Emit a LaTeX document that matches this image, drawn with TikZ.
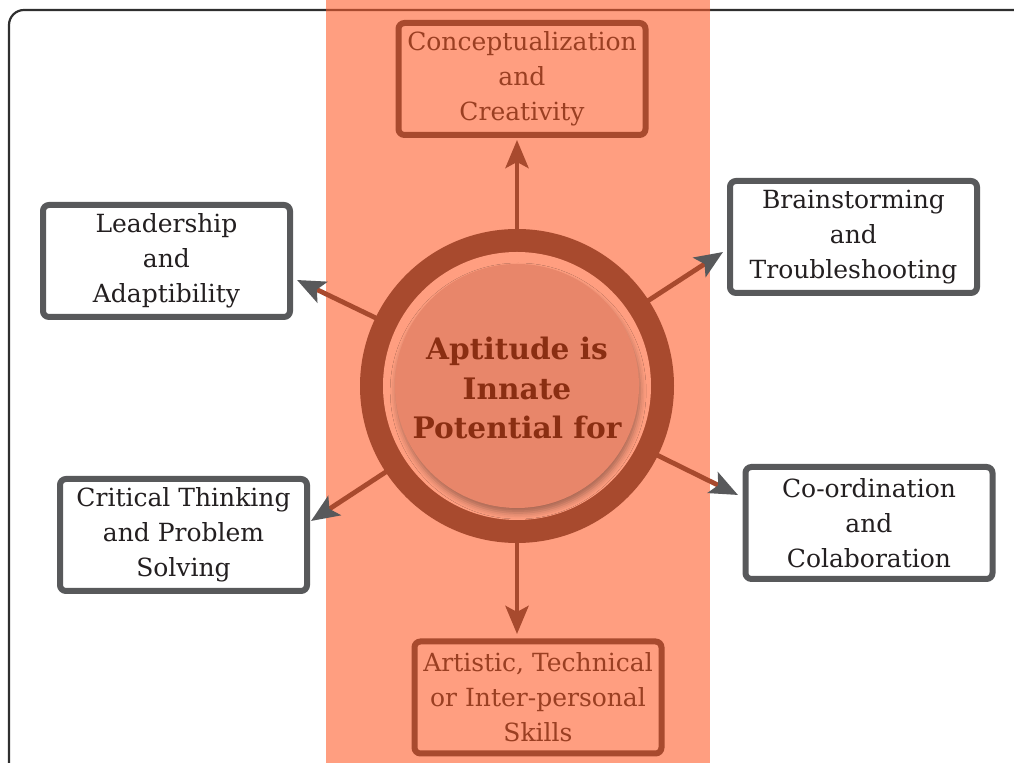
\documentclass[tikz,border=0pt]{standalone}
\usepackage{fontspec}
\setmainfont{DejaVu Serif}
\usetikzlibrary{arrows.meta,shadows.blur}
\definecolor{band}{HTML}{FF9E80}
\definecolor{ringbrown}{HTML}{A84A2E}
\definecolor{diskfill}{HTML}{E8866A}
\definecolor{boxgray}{HTML}{58595B}
\definecolor{textdark}{HTML}{231F20}
\definecolor{textbrown}{HTML}{9A3F22}
\definecolor{centertext}{HTML}{8A2E12}
\definecolor{framegray}{HTML}{2F2F2F}
\tikzset{
  graybox/.style={draw=boxgray, line width=3pt, rounded corners=3pt, fill=white,
    align=center, inner sep=0pt, minimum width=123.5pt, minimum height=56pt,
    text=textdark, font=\fontsize{12.5}{17.5}\selectfont},
  brownbox/.style={graybox, draw=ringbrown, fill=band, text=textbrown},
  brownarrow/.style={draw=ringbrown, line width=2.4pt,
    -{Stealth[length=14pt,width=11.5pt,inset=3pt]}},
  sidearrow/.style={draw=ringbrown, line width=2.4pt,
    -{Stealth[length=14pt,width=11.5pt,inset=3pt,color=boxgray]}},
  framestyle/.style={line width=1.1pt, rounded corners=7.5pt},
  centerlabel/.style={align=center, text=centertext, inner sep=0pt,
    font=\fontsize{14.8}{19.7}\selectfont\bfseries},
}
\begin{document}
\begin{tikzpicture}[x=0.5pt,y=-0.5pt]
\useasboundingbox (0,0) rectangle (1014,763);
\clip (0,0) rectangle (1014,763);
% outer frame
\draw[framestyle, draw=framegray] (9,10) rectangle (1080,778);
% vertical band
\fill[band] (326,-5) rectangle (710,770);
\begin{scope}
  \clip (326,0) rectangle (710,40);
  \draw[framestyle, draw=ringbrown] (9,10) rectangle (1080,778);
\end{scope}
% boxes
\node[brownbox] (top) at (522,79) {Conceptualization\\and\\Creativity};
\node[graybox] (lead) at (166.5,261) {Leadership\\and\\Adaptibility};
\node[graybox] (brain) at (853.5,237) {Brainstorming\\and\\Troubleshooting};
\node[graybox] (coord) at (869,523) {Co-ordination\\and\\Colaboration};
\node[graybox] (crit) at (183.5,535) {Critical Thinking\\and Problem\\Solving};
\node[brownbox] (bot) at (538,697.5) {Artistic, Technical\\or Inter-personal\\Skills};
% center circle anchor
\coordinate (cc) at (517,386);
\coordinate (tlead) at (297,280);
\coordinate (tbrain) at (723,252);
\coordinate (tcoord) at (738,495);
\coordinate (tcrit) at (311,521);
\coordinate (ttop) at (517,140);
\coordinate (tbot) at (517,634);
% connectors
\draw[brownarrow] (cc) -- (ttop);
\draw[brownarrow] (cc) -- (tbot);
\draw[sidearrow] (cc) -- (tlead);
\draw[sidearrow] (cc) -- (tbrain);
\draw[sidearrow] (cc) -- (tcoord);
\draw[sidearrow] (cc) -- (tcrit);
% center circle
\node[circle, fill=ringbrown, minimum size=157pt, inner sep=0pt] (c) at (cc) {};
\node[circle, fill=band, minimum size=134pt, inner sep=0pt] (cr) at (cc) {};
\node[circle, fill=diskfill, minimum size=122pt, inner sep=0pt,
  blur shadow={shadow xshift=0.6pt, shadow yshift=-2.5pt, shadow blur radius=3pt, shadow opacity=35}] (cd) at (cc) {};
\node[centerlabel] (label) at (517,388) {Aptitude is\\Innate\\Potential for};
\end{tikzpicture}
\end{document}
